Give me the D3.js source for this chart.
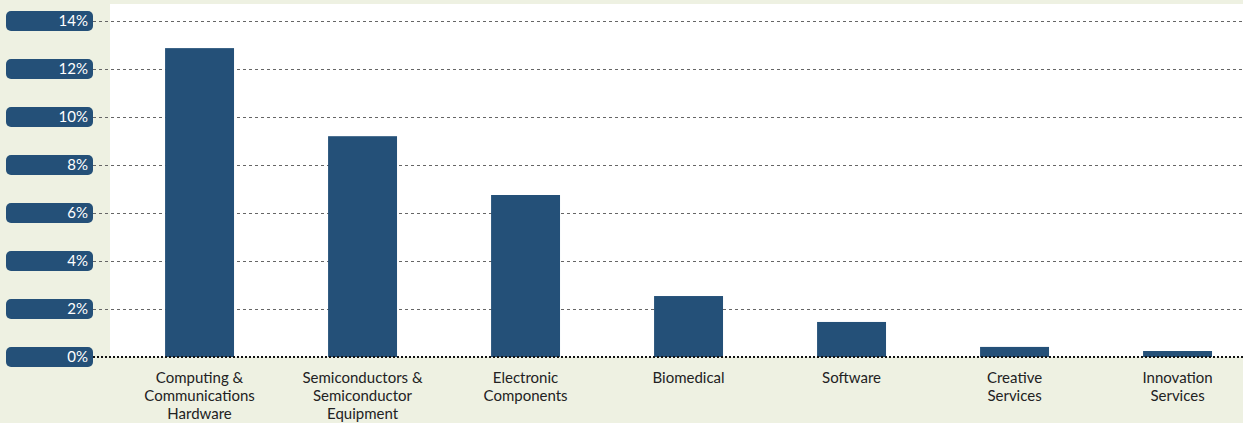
<!DOCTYPE html>
<html><head><meta charset="utf-8">
<script src="https://cdn.jsdelivr.net/npm/d3@7"></script>
<style>
html,body{margin:0;padding:0;background:#eef1e2;}
svg{display:block;font-family:"Lato","Open Sans",sans-serif;}
</style></head>
<body><svg id="chart" width="1243" height="423"></svg>
<script>
const categories = [
  ["Computing &","Communications","Hardware"],
  ["Semiconductors &","Semiconductor","Equipment"],
  ["Electronic","Components"],
  ["Biomedical"],
  ["Software"],
  ["Creative","Services"],
  ["Innovation","Services"]
];
const values = [12.87, 9.2, 6.75, 2.54, 1.46, 0.42, 0.25];
const yTicks = [0, 2, 4, 6, 8, 10, 12, 14];
const tickLabels = ["0%","2%","4%","6%","8%","10%","12%","14%"];

const W = 1243, H = 423;
const svg = d3.select("#chart");
const plotLeft = 110, plotRight = 1243, plotTop = 4;
const y = d3.scaleLinear().domain([0,14]).range([357,21]);
const x = d3.scaleBand().domain(d3.range(categories.length))
  .range([plotLeft, plotRight]).paddingInner(0.577).paddingOuter(0.264).align(0.64);
const barColor = "#245078";

svg.append("rect").attr("width",W).attr("height",H).attr("fill","#eef1e2");
svg.append("rect").attr("x",plotLeft).attr("y",plotTop)
  .attr("width",plotRight-plotLeft).attr("height",y(0)-plotTop).attr("fill","#ffffff");

// grid lines
svg.append("g").selectAll("line").data(yTicks.filter(d=>d>0)).join("line")
  .attr("x1",93).attr("x2",W).attr("y1",d=>Math.round(y(d))+0.5).attr("y2",d=>Math.round(y(d))+0.5)
  .attr("stroke","#666").attr("stroke-width",1).attr("stroke-dasharray","3,3");

// bars
svg.append("g").selectAll("rect").data(values).join("rect")
  .attr("x",(d,i)=>x(i)).attr("width",x.bandwidth())
  .attr("y",d=>y(d)).attr("height",d=>y(0)-y(d)).attr("fill",barColor);

// zero line
svg.append("line").attr("x1",93).attr("x2",W).attr("y1",y(0)).attr("y2",y(0))
  .attr("stroke","#111").attr("stroke-width",2).attr("stroke-dasharray","2,2");

// y tick pills
const tg = svg.append("g").selectAll("g").data(yTicks).join("g")
  .attr("transform",d=>`translate(0,${y(d)})`);
tg.append("rect").attr("x",6).attr("y",-10).attr("width",87).attr("height",20)
  .attr("rx",5).attr("fill",barColor);
tg.append("text").attr("x",88).attr("y",5).attr("text-anchor","end")
  .attr("fill","#fff").attr("font-size",15).text((d,i)=>tickLabels[i]);

// category labels
const cg = svg.append("g").selectAll("text").data(categories).join("text")
  .attr("x",(d,i)=>x(i)+x.bandwidth()/2).attr("y",383)
  .attr("text-anchor","middle").attr("fill","#222").attr("font-size",15);
cg.selectAll("tspan").data(d=>d).join("tspan")
  .attr("x",function(){return this.parentNode.getAttribute("x");})
  .attr("dy",(d,i)=>i===0?0:18).text(d=>d);
</script>
</body></html>
